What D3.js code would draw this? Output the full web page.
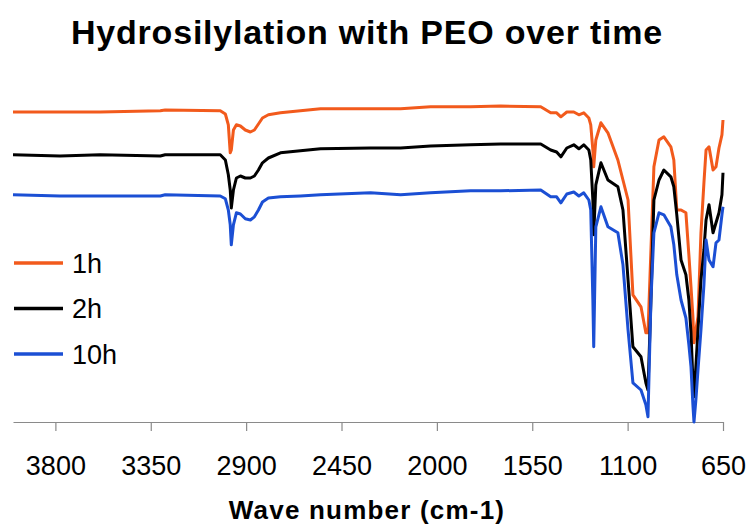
<!DOCTYPE html>
<html>
<head>
<meta charset="utf-8">
<script src="https://cdn.jsdelivr.net/npm/d3@7"></script>
<style>
  body { margin: 0; background: #fff; }
  svg { display: block; font-family: "Liberation Sans", Arial, sans-serif; }
</style>
</head>
<body>
<svg id="chart"></svg>
<script>
// Wave numbers (cm-1) the spectra were read at
const wavenumbers = [4000, 3778, 3589, 3305, 3282, 3022, 2998, 2984, 2975, 2970,
  2960, 2946, 2927, 2904, 2880, 2861, 2842, 2823, 2795, 2738,
  2644, 2549, 2313, 2171, 2030, 1841, 1699, 1510, 1463, 1435,
  1415, 1387, 1354, 1330, 1307, 1283, 1274, 1264, 1260, 1250,
  1226, 1193, 1146, 1122, 1098, 1075, 1037, 1014, 1004, 990,
  976, 952, 929, 896, 882, 868, 848, 825, 811, 801,
  792, 787, 778, 768, 754, 740, 730, 716, 697, 683,
  669, 655, 650];

// Transmittance (a.u., spectra offset) for each reaction time
const series1h = [77.5, 77.5, 77.5, 77.8, 78.0, 77.8, 77.0, 74.3, 67.3, 68.0,
  73.0, 74.3, 74.0, 73.0, 72.5, 73.0, 74.5, 76.0, 76.8, 77.3,
  77.8, 78.3, 78.3, 78.3, 78.8, 78.8, 79.0, 78.8, 77.3, 77.3,
  76.3, 77.5, 77.5, 76.8, 77.3, 76.0, 74.3, 68.0, 63.8, 70.5,
  74.8, 72.3, 65.5, 60.5, 55.5, 31.8, 28.8, 22.3, 22.3, 43.0,
  63.8, 70.5, 71.3, 68.8, 65.5, 53.0, 53.0, 52.3, 41.8, 33.8,
  26.3, 19.8, 23.0, 26.3, 47.3, 59.8, 68.0, 68.8, 63.0, 63.8,
  68.5, 71.8, 75.5];

const series2h = [66.8, 66.5, 66.8, 66.5, 66.8, 66.8, 65.5, 61.8, 58.0, 53.5,
  58.0, 61.0, 61.5, 61.0, 61.0, 61.5, 63.0, 64.8, 66.0, 67.3,
  67.8, 68.3, 68.5, 68.5, 69.0, 69.3, 69.5, 69.5, 68.0, 67.5,
  66.3, 68.5, 69.3, 68.3, 69.3, 68.0, 65.5, 55.5, 46.8, 59.3,
  64.8, 60.5, 58.8, 53.0, 35.5, 18.8, 16.3, 9.8, 8.0, 30.5,
  55.5, 60.5, 63.0, 61.3, 58.8, 51.8, 40.5, 36.8, 30.5, 22.3,
  10.5, 6.3, 13.8, 23.0, 35.5, 43.0, 50.5, 54.3, 47.3, 49.8,
  52.3, 56.8, 62.3];

const series10h = [56.8, 56.5, 56.5, 56.5, 56.8, 56.5, 55.8, 53.0, 49.3, 44.3,
  49.3, 52.3, 52.0, 50.8, 50.5, 51.3, 53.0, 55.0, 56.0, 56.3,
  56.5, 56.8, 57.3, 56.8, 57.3, 57.8, 57.8, 58.0, 56.3, 56.3,
  54.8, 57.0, 57.5, 56.5, 57.3, 55.5, 53.0, 30.5, 18.8, 48.8,
  53.8, 48.8, 47.3, 39.3, 23.0, 9.8, 8.0, 4.3, 1.3, 30.5,
  47.3, 52.3, 51.8, 48.8, 44.3, 36.8, 30.5, 26.0, 19.3, 13.8,
  4.3, 0.0, 5.5, 13.0, 23.0, 34.3, 45.5, 40.5, 38.8, 44.8,
  45.5, 51.8, 53.8];

const seriesNames = ['1h', '2h', '10h'];
const seriesColors = ['#f25a1c', '#000000', '#1b4fd4'];
const tickValues = [3800, 3350, 2900, 2450, 2000, 1550, 1100, 650];

class SpectrumChart {

  constructor(_config, _data) {
    this.config = {
      parentElement: _config.parentElement,
      containerWidth: _config.containerWidth || 750,
      containerHeight: _config.containerHeight || 527,
      margin: _config.margin || {top: 22, right: 27, bottom: 105, left: 13},
      title: _config.title || '',
      xAxisTitle: _config.xAxisTitle || '',
    }
    this.data = _data;
    this.initVis();
  }

  initVis() {
    let vis = this;

    vis.width = vis.config.containerWidth - vis.config.margin.left - vis.config.margin.right;
    vis.height = vis.config.containerHeight - vis.config.margin.top - vis.config.margin.bottom;

    // wave number runs right to left, as usual for IR spectra
    vis.xScale = d3.scaleLinear()
      .domain([4000, 650])
      .range([0, vis.width]);

    vis.yScale = d3.scaleLinear()
      .domain([0, 100])
      .range([vis.height, 0]);

    vis.xAxis = d3.axisBottom(vis.xScale)
      .tickValues(tickValues)
      .tickFormat(d3.format('d'))
      .tickSize(9)
      .tickSizeOuter(0)
      .tickPadding(25);

    vis.svg = d3.select(vis.config.parentElement)
      .attr('width', vis.config.containerWidth)
      .attr('height', vis.config.containerHeight);

    vis.chart = vis.svg.append('g')
      .attr('transform', `translate(${vis.config.margin.left},${vis.config.margin.top})`);

    vis.xAxisG = vis.chart.append('g')
      .attr('class', 'axis x-axis')
      .attr('transform', `translate(0,${vis.height})`);

    vis.svg.append('text')
      .attr('class', 'chart-title')
      .attr('x', 367)
      .attr('y', 44)
      .attr('text-anchor', 'middle')
      .style('font-size', '34px')
      .style('font-weight', 'bold')
      .style('letter-spacing', '0.8px')
      .text(vis.config.title);

    vis.svg.append('text')
      .attr('class', 'axis-title')
      .attr('x', 367)
      .attr('y', 519)
      .attr('text-anchor', 'middle')
      .style('font-size', '26px')
      .style('font-weight', 'bold')
      .style('letter-spacing', '1.2px')
      .text(vis.config.xAxisTitle);

    vis.line = d3.line()
      .x(d => vis.xScale(d.wn))
      .y(d => vis.yScale(d.value));

    vis.updateVis();
  }

  updateVis() {
    let vis = this;

    vis.series = seriesNames.map((name, i) => ({
      name: name,
      color: seriesColors[i],
      values: wavenumbers.map((wn, j) => ({wn: wn, value: vis.data[i][j]}))
    }));

    vis.renderVis();
  }

  renderVis() {
    let vis = this;

    vis.xAxisG.call(vis.xAxis);
    vis.xAxisG.select('.domain').attr('stroke', '#8a8a8a').attr('stroke-width', 1.2);
    vis.xAxisG.selectAll('.tick line').attr('stroke', '#8a8a8a').attr('stroke-width', 1.2);
    vis.xAxisG.selectAll('.tick text')
      .attr('fill', '#000')
      .style('font-size', '27px')
      .style('font-family', '"Liberation Sans", Arial, sans-serif');

    vis.chart.selectAll('.spectrum')
      .data(vis.series)
      .join('path')
        .attr('class', 'spectrum')
        .attr('fill', 'none')
        .attr('stroke', d => d.color)
        .attr('stroke-width', 3)
        .attr('stroke-linejoin', 'round')
        .attr('d', d => vis.line(d.values));

    // legend on the left side of the plot
    const legend = vis.svg.selectAll('.legend-item')
      .data(vis.series)
      .join('g')
        .attr('class', 'legend-item')
        .attr('transform', (d, i) => `translate(14,${263 + i * 45.5})`);

    legend.append('line')
      .attr('x1', 0)
      .attr('x2', 49)
      .attr('stroke', d => d.color)
      .attr('stroke-width', 3.5);

    legend.append('text')
      .attr('x', 58)
      .attr('dy', '0.36em')
      .style('font-size', '27px')
      .text(d => d.name);
  }
}

new SpectrumChart({
  parentElement: '#chart',
  title: 'Hydrosilylation with PEO over time',
  xAxisTitle: 'Wave number (cm-1)'
}, [series1h, series2h, series10h]);
</script>
</body>
</html>
